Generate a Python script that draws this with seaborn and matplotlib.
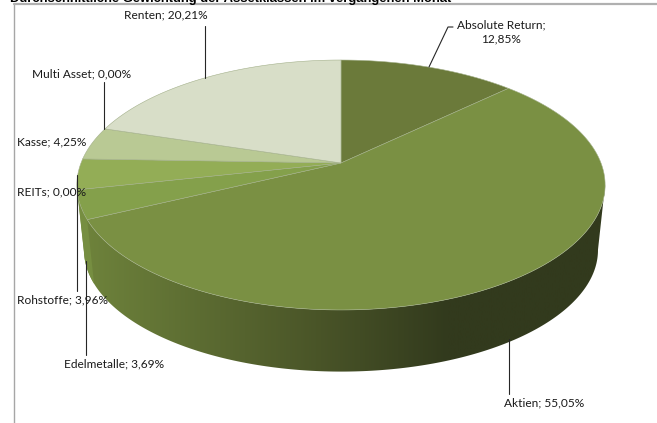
import numpy as np
import pandas as pd
import seaborn as sns
import matplotlib.pyplot as plt
from matplotlib.colors import LinearSegmentedColormap
from matplotlib.patches import Polygon

# Werte im Uhrzeigersinn ab 12 Uhr
assets = ["Absolute Return", "Aktien", "Edelmetalle", "Rohstoffe", "REITs", "Kasse", "Multi Asset", "Renten"]
shares = [12.85, 55.05, 3.69, 3.96, 0.00, 4.25, 0.00, 20.21]
top_colors = ["#6B7A3A", "#7A9043", "#84A04B", "#93AD56", "#93AD56", "#B9C994", "#B9C994", "#D8DEC8"]
title = "Durchschnittliche Gewichtung der Assetklassen im vergangenen Monat"

sns.set_theme(style="white")
plt.rcParams["font.family"] = ["Lato", "DejaVu Sans"]

df = pd.DataFrame({"asset": assets, "share": shares, "color": top_colors})
df["end"] = df["share"].cumsum() / df["share"].sum() * 2 * np.pi
df["start"] = df["end"].shift(fill_value=0.0)


# Kreis -> perspektivische Ellipse in Pixelkoordinaten
def project(theta, scale=1.0, dy=0.0):
    u, v = np.sin(theta), np.cos(theta)
    w = 1 + 0.176 * v
    return 341 + scale * 260 * u / w, 185 + dy + scale * (-22 - 121.1 * v / w)


def rim(t0, t1, scale=1.0, dy=0.0):
    t = np.linspace(t0, t1, 200)
    x, y = project(t, scale, dy)
    return np.column_stack([x, y])


fig, ax = plt.subplots(figsize=(6.57, 4.23), dpi=100)
fig.subplots_adjust(0, 0, 1, 1)
ax.set_xlim(0, 657)
ax.set_ylim(423, 0)
ax.axis("off")

# Rahmen
ax.plot([13.5, 13.5], [423, 4.5], color="#a6a6a6", lw=1.0)
ax.plot([13.5, 657], [4.5, 4.5], color="#b0b0b0", lw=1.6)

# Seitenwand: Verlauf von links hell nach rechts dunkel
side_cmap = LinearSegmentedColormap.from_list(
    "side", [(0, "#6F843C"), (0.45, "#4A5528"), (0.70, "#323A1D"), (1, "#323A1D")])
left_t = np.deg2rad(259)
right_t = np.deg2rad(100)
upper = rim(right_t, left_t)
lower = rim(left_t, right_t, 0.973, 65.0)
wall = Polygon(np.vstack([upper, lower]), closed=True, transform=ax.transData, fc="none", ec="none")
ax.add_patch(wall)
grad = np.linspace(0, 1, 256)[None, :]
img = ax.imshow(grad, cmap=side_cmap, extent=[78, 606, 423, 0], aspect="auto", zorder=1)
img.set_clip_path(wall)
ax.set_xlim(0, 657)
ax.set_ylim(423, 0)

# Seitenstueck Edelmetalle
row = df[df["asset"] == "Edelmetalle"].iloc[0]
piece = np.vstack([rim(row["start"], row["end"]), rim(row["end"], row["start"], 0.973, 65.0)])
ax.fill(piece[:, 0], piece[:, 1], color="#768E41", lw=0, zorder=1.5)

# Deckflaeche
apex_x, apex_y = 341, 163
for _, r in df.iterrows():
    if r["share"] == 0:
        continue
    pts = rim(r["start"], r["end"])
    ax.fill(np.r_[apex_x, pts[:, 0]], np.r_[apex_y, pts[:, 1]], fc=r["color"],
            ec="#A3B08A", lw=0.4, zorder=2)

# Beschriftung
labels = [f"{a}; {s:.2f}%".replace(".", ",") for a, s in zip(assets, shares)]
kw = dict(fontsize=8.6, color="#1a1a1a", va="center", zorder=5)
ax.text(166, 15, labels[7], ha="center", **kw)
ax.text(32, 74, labels[6], ha="left", **kw)
ax.text(17, 142, labels[5], ha="left", **kw)
ax.text(17, 192, labels[4], ha="left", **kw)
ax.text(17, 300, labels[3], ha="left", **kw)
ax.text(64, 364, labels[2], ha="left", **kw)
ax.text(504, 403, labels[1], ha="left", **kw)
ax.text(501, 32, labels[0].replace("; ", ";\n"), ha="center", linespacing=1.25, **kw)
ax.text(10, -1, title, ha="left", fontsize=9.37, fontweight="bold", color="black",
        va="center", family="Liberation Sans")

# Fuehrungslinien
leaders = [([205, 205], [26, 78]), ([104, 104], [82, 129]), ([453, 448, 429], [27, 27, 67]),
           ([508.5, 508.5], [339, 394]), ([86, 86], [261, 355]), ([77, 77], [175, 291])]
for lx, ly in leaders:
    ax.plot(lx, ly, color="#262626", lw=0.8, zorder=4)

fig.savefig("out.png", dpi=100)
